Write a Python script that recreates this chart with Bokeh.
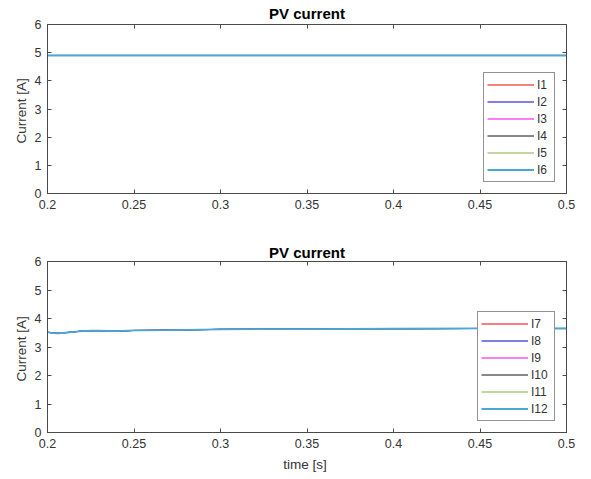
from bokeh.plotting import figure
from bokeh.layouts import column
from bokeh.models import FixedTicker, LinearAxis, Range1d, CustomJSTickFormatter
from bokeh.embed import file_html
from bokeh.resources import INLINE

# ---- data ----
time_top = [0.20, 0.25, 0.30, 0.35, 0.40, 0.45, 0.50]
current_top = [4.90, 4.90, 4.90, 4.90, 4.90, 4.90, 4.90]

time_bottom = [0.200, 0.203, 0.206, 0.210, 0.215, 0.220, 0.225, 0.230,
               0.240, 0.250, 0.270, 0.300, 0.350, 0.400, 0.450, 0.500]
current_bottom = [3.52, 3.49, 3.48, 3.50, 3.53, 3.56, 3.57, 3.57,
                  3.56, 3.58, 3.59, 3.62, 3.63, 3.64, 3.65, 3.65]

labels_top = ["I1", "I2", "I3", "I4", "I5", "I6"]
labels_bottom = ["I7", "I8", "I9", "I10", "I11", "I12"]
series_colors = ["#f00000", "#0000d0", "#f000f0", "#101010", "#86b040", "#4aa8d8"]

x_ticks = [0.2, 0.25, 0.3, 0.35, 0.4, 0.45, 0.5]
y_ticks = [0, 1, 2, 3, 4, 5, 6]
title_text = "PV current"
y_label = "Current  [A]"
x_label = "time  [s]"

FONT = "Liberation Sans"
AX = "#4a4a4a"
TXT = "#333333"


def make(times, values, labels, top, frame_h, bottom, xlab, lab_w, title_gap):
    p = figure(width=585, output_backend="svg", toolbar_location=None,
               x_range=Range1d(0.2, 0.5), y_range=Range1d(0, 6),
               frame_width=519, frame_height=frame_h,
               min_border_left=47, min_border_right=19,
               min_border_top=top, min_border_bottom=bottom,
               background_fill_color="white", border_fill_color="white")
    p.grid.visible = False
    p.outline_line_color = AX
    p.outline_line_width = 1

    n = len(labels)
    for k, (lab, col) in enumerate(zip(labels, series_colors)):
        p.line(times, values, line_color=col, line_width=(1.8 if k == n - 1 else 1),
               legend_label=lab)

    fmt = CustomJSTickFormatter(code="return tick.toString()")
    xa = p.xaxis[0]
    ya = p.yaxis[0]
    xa.ticker = FixedTicker(ticks=x_ticks)
    ya.ticker = FixedTicker(ticks=y_ticks)
    for ax in (xa, ya):
        ax.formatter = fmt
        ax.major_tick_in = 4
        ax.major_tick_out = 0
        ax.minor_tick_line_color = None
        ax.axis_line_color = AX
        ax.major_tick_line_color = AX
        ax.major_label_text_font = FONT
        ax.major_label_text_font_size = "12.5px"
        ax.major_label_text_color = TXT
        ax.axis_label_text_font = FONT
        ax.axis_label_text_font_size = "13.5px"
        ax.axis_label_text_font_style = "normal"
        ax.axis_label_text_color = TXT
    xa.major_label_standoff = 6
    ya.major_label_standoff = 6
    ya.axis_label = y_label
    ya.axis_label_standoff = 3
    if xlab:
        xa.axis_label = xlab
        xa.axis_label_standoff = 6

    for loc, ticks in (("right", y_ticks), ("above", x_ticks)):
        ax = LinearAxis(ticker=FixedTicker(ticks=ticks),
                        formatter=CustomJSTickFormatter(code="return ''"),
                        major_tick_in=4, major_tick_out=0,
                        major_label_standoff=0,
                        major_label_text_font_size="0px",
                        minor_tick_line_color=None,
                        axis_line_color=AX, major_tick_line_color=AX)
        p.add_layout(ax, loc)

    p.title.text = title_text
    p.title.align = "center"
    p.title.text_font = FONT
    p.title.text_font_style = "bold"
    p.title.text_font_size = "15px"
    p.title.text_color = "black"
    p.title.standoff = title_gap

    lg = p.legend[0]
    lg.location = "bottom_right"
    lg.margin = 11
    lg.padding = 3
    lg.spacing = 0
    lg.glyph_width = 47
    lg.glyph_height = 17
    lg.label_height = 17
    lg.label_width = lab_w
    lg.label_standoff = 3
    lg.label_text_font = FONT
    lg.label_text_font_size = "12px"
    lg.label_text_color = TXT
    lg.border_line_color = "#262626"
    lg.border_line_width = 1
    lg.background_fill_color = "white"
    lg.background_fill_alpha = 1.0
    return p


p1 = make(time_top, current_top, labels_top, 23, 169, 36, None, 14, 5)
p2 = make(time_bottom, current_bottom, labels_bottom, 32, 171, 44, x_label, 20, 2)

layout = column(p1, p2, spacing=0)
open("out.html", "w").write(file_html(layout, INLINE))
